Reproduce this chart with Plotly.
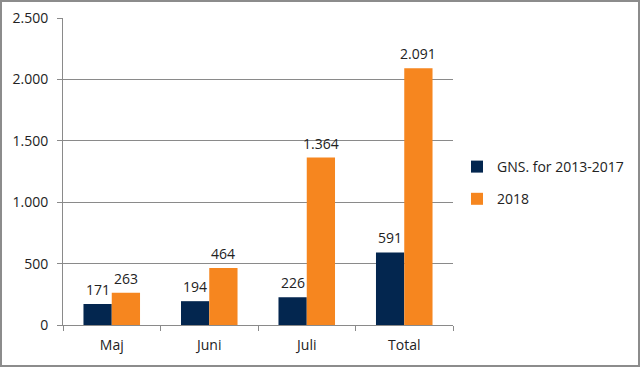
import plotly.graph_objects as go

categories = ["Maj", "Juni", "Juli", "Total"]
gns_values = [171, 194, 226, 591]
y2018_values = [263, 464, 1364, 2091]
series_names = ["GNS. for 2013-2017", "2018"]
y_tick_vals = [0, 500, 1000, 1500, 2000, 2500]
y_tick_text = ["0", "500", "1.000", "1.500", "2.000", "2.500"]


def fmt(v):
    return f"{v:,}".replace(",", ".")


W, H = 640, 367
ml, mr, mt, mb = 63, 187, 18, 42
pw, ph = W - ml - mr, H - mt - mb

font = "Open Sans, DejaVu Sans, sans-serif"
txt_col = "#222222"
grid_col = "#8a8a8a"
fs = 14
bargap = 0.42
half_bar = pw / len(categories) * (1 - bargap) / 4

fig = go.Figure()
fig.add_trace(go.Bar(
    x=categories, y=gns_values, name=series_names[0],
    marker=dict(color="#03264f", line=dict(width=0)),
    legendgroup="a",
))
fig.add_trace(go.Bar(
    x=categories, y=y2018_values, name=series_names[1],
    marker=dict(color="#f6861f", line=dict(width=0)),
    legendgroup="b",
))

annotations = []
for vals, sign in ((gns_values, -1), (y2018_values, 1)):
    for c, v in zip(categories, vals):
        annotations.append(dict(
            x=c, y=v, xref="x", yref="y", text=fmt(v), showarrow=False,
            xanchor="center", yanchor="bottom", xshift=sign * half_bar, yshift=3,
            font=dict(size=fs, color=txt_col, family=font),
        ))

fig.update_layout(
    width=W, height=H,
    margin=dict(l=ml, r=mr, t=mt, b=mb, autoexpand=False),
    paper_bgcolor="white", plot_bgcolor="white",
    barmode="group", bargap=bargap, bargroupgap=0,
    font=dict(family=font, size=fs, color=txt_col),
    showlegend=True,
    legend=dict(
        x=(457 - ml) / pw, y=1 - (151 - mt) / ph, xanchor="left", yanchor="top",
        font=dict(size=fs, color=txt_col, family=font),
        traceorder="grouped", tracegroupgap=11,
        itemwidth=30, bgcolor="rgba(0,0,0,0)",
    ),
    xaxis=dict(
        showline=True, linecolor=grid_col, linewidth=1,
        ticks="outside", tickson="boundaries", ticklen=5, tickcolor=grid_col,
        showgrid=False, tickfont=dict(size=fs, color=txt_col), automargin=False,
        ticklabelstandoff=7,
    ),
    yaxis=dict(
        range=[0, 2500], tickvals=y_tick_vals, ticktext=y_tick_text,
        showline=True, linecolor=grid_col, linewidth=1,
        ticks="outside", ticklen=5, tickcolor=grid_col,
        showgrid=True, gridcolor=grid_col, gridwidth=1,
        zeroline=False, ticklabelstandoff=6, automargin=False,
        tickfont=dict(size=fs, color=txt_col),
    ),
    annotations=annotations,
    shapes=[dict(
        type="rect", xref="paper", yref="paper",
        x0=(1 - ml) / pw, x1=(W - 1 - ml) / pw,
        y0=-(mb - 1) / ph, y1=1 + (mt - 1) / ph,
        line=dict(color="#8c8c8c", width=2), fillcolor="rgba(0,0,0,0)",
        layer="above",
    )],
)

fig.write_html(
    "out.html",
    config={"displayModeBar": False},
    post_script="document.body.style.margin='0';document.body.style.overflow='hidden';",
)
